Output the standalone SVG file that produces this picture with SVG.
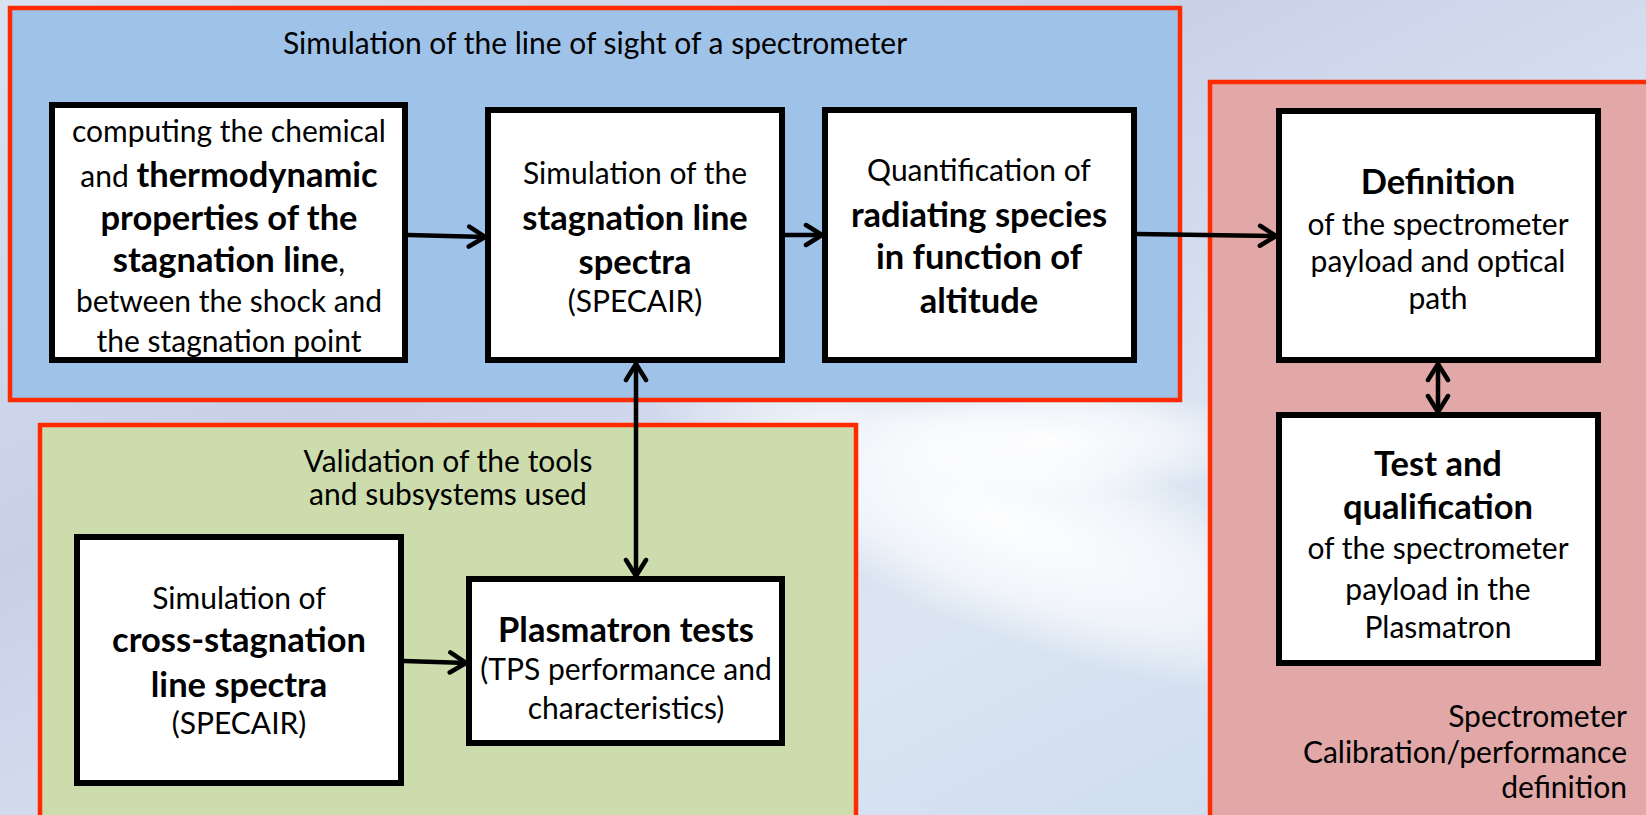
<svg xmlns="http://www.w3.org/2000/svg" width="1646" height="815" viewBox="0 0 1646 815">
<defs>
<linearGradient id="sky" x1="0" y1="0" x2="1" y2="1">
<stop offset="0" stop-color="#D8E2F0"/>
<stop offset="0.35" stop-color="#C8D0E8"/>
<stop offset="0.65" stop-color="#DCE6F2"/>
<stop offset="1" stop-color="#C8D8EE"/>
</linearGradient>
<radialGradient id="cloud" cx="0.5" cy="0.5" r="0.5">
<stop offset="0" stop-color="#FFFFFF" stop-opacity="0.95"/>
<stop offset="0.6" stop-color="#FFFFFF" stop-opacity="0.6"/>
<stop offset="1" stop-color="#FFFFFF" stop-opacity="0"/>
</radialGradient>
<marker id="arr" viewBox="0 0 22 26" refX="20" refY="13" markerWidth="22" markerHeight="26" markerUnits="userSpaceOnUse" orient="auto-start-reverse">
<path d="M3,3 L19,13 L3,23" fill="none" stroke="#000" stroke-width="4.5" stroke-linecap="round" stroke-linejoin="round"/>
</marker>
<style>
.grp{stroke:#FF2A00;stroke-width:4.5}
.node{fill:#FFFFFF;stroke:#000;stroke-width:6}
text{font-family:Lato,"Open Sans","Liberation Sans",sans-serif;fill:#000;text-anchor:middle}
.t{font-size:30px}
.b{font-size:34.5px;font-weight:bold}
.cap{font-size:30px}
.con{stroke:#000;stroke-width:4.5;fill:none}
</style>
</defs>
<rect x="0" y="0" width="1646" height="815" fill="url(#sky)"/>
<ellipse cx="1000" cy="520" rx="380" ry="110" fill="url(#cloud)" transform="rotate(22 1000 520)"/>
<ellipse cx="1050" cy="440" rx="200" ry="60" fill="url(#cloud)"/>

<g id="group-los">
<rect class="grp" x="10" y="8" width="1170" height="392" fill="#9FC2E9"/>
<text class="cap" x="595" y="54">Simulation of the line of sight of a spectrometer</text>
</g>
<g id="group-calib">
<rect class="grp" x="1210" y="82" width="450" height="740" fill="#E1A8A7"/>
<text class="cap" x="1627" y="727" style="text-anchor:end">Spectrometer</text>
<text class="cap" x="1627" y="763" style="text-anchor:end">Calibration/performance</text>
<text class="cap" x="1627" y="798" style="text-anchor:end">definition</text>
</g>
<g id="group-valid">
<rect class="grp" x="40" y="425" width="816" height="400" fill="#CDDCAC"/>
<text class="cap" x="448" y="472">Validation of the tools</text>
<text class="cap" x="448" y="505">and subsystems used</text>
</g>

<g id="connectors">
<line class="con" x1="408" y1="235" x2="486" y2="237" marker-end="url(#arr)"/>
<line class="con" x1="785" y1="235" x2="823" y2="235" marker-end="url(#arr)"/>
<line class="con" x1="1137" y1="234" x2="1277" y2="236" marker-end="url(#arr)"/>
<line class="con" x1="636" y1="363" x2="636" y2="577" marker-start="url(#arr)" marker-end="url(#arr)"/>
<line class="con" x1="1438" y1="363" x2="1438" y2="413" marker-start="url(#arr)" marker-end="url(#arr)"/>
<line class="con" x1="404" y1="661" x2="467" y2="663" marker-end="url(#arr)"/>
</g>

<g id="node-thermo">
<rect class="node" x="52" y="105" width="353" height="255"/>
<text class="t" x="229" y="142">computing the chemical</text>
<text x="229" y="187"><tspan class="t">and </tspan><tspan class="b">thermodynamic</tspan></text>
<text class="b" x="229" y="230">properties of the</text>
<text x="229" y="272"><tspan class="b">stagnation line</tspan><tspan class="t">,</tspan></text>
<text class="t" x="229" y="312">between the shock and</text>
<text class="t" x="229" y="352">the stagnation point</text>
</g>
<g id="node-spectra">
<rect class="node" x="488" y="110" width="294" height="250"/>
<text class="t" x="635" y="184">Simulation of the</text>
<text class="b" x="635" y="230">stagnation line</text>
<text class="b" x="635" y="274">spectra</text>
<text class="t" x="635" y="312">(SPECAIR)</text>
</g>
<g id="node-species">
<rect class="node" x="825" y="110" width="309" height="250"/>
<text class="t" x="979" y="181">Quantification of</text>
<text class="b" x="979" y="227">radiating species</text>
<text class="b" x="979" y="269">in function of</text>
<text class="b" x="979" y="313">altitude</text>
</g>
<g id="node-definition">
<rect class="node" x="1279" y="111" width="319" height="249"/>
<text class="b" x="1438" y="194">Definition</text>
<text class="t" x="1438" y="235">of the spectrometer</text>
<text class="t" x="1438" y="272">payload and optical</text>
<text class="t" x="1438" y="309">path</text>
</g>
<g id="node-test">
<rect class="node" x="1279" y="415" width="319" height="248"/>
<text class="b" x="1438" y="476">Test and</text>
<text class="b" x="1438" y="519">qualification</text>
<text class="t" x="1438" y="559">of the spectrometer</text>
<text class="t" x="1438" y="600">payload in the</text>
<text class="t" x="1438" y="638">Plasmatron</text>
</g>
<g id="node-cross">
<rect class="node" x="77" y="537" width="324" height="246"/>
<text class="t" x="239" y="609">Simulation of</text>
<text class="b" x="239" y="652">cross-stagnation</text>
<text class="b" x="239" y="697">line spectra</text>
<text class="t" x="239" y="734">(SPECAIR)</text>
</g>
<g id="node-plasmatron">
<rect class="node" x="469" y="579" width="313" height="164"/>
<text class="b" x="626" y="642">Plasmatron tests</text>
<text class="t" x="626" y="680">(TPS performance and</text>
<text class="t" x="626" y="719">characteristics)</text>
</g>
</svg>
